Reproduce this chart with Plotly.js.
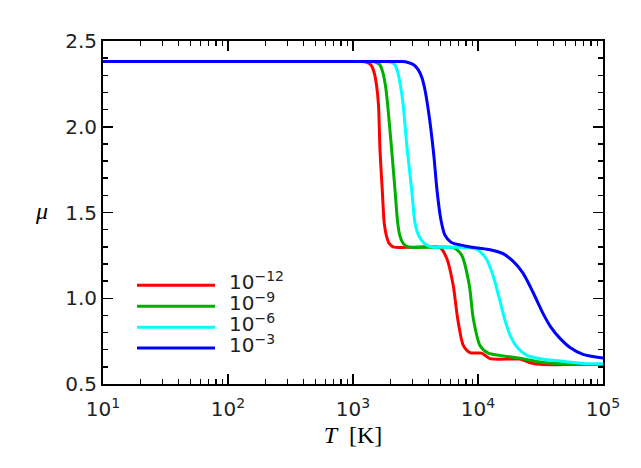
<!DOCTYPE html>
<html>
<head>
<meta charset="utf-8">
<script src="https://cdn.plot.ly/plotly-3.0.1.min.js"></script>
<style>
  html, body { margin: 0; padding: 0; background: #fff; }
  #chart { width: 641px; height: 468px; }
</style>
</head>
<body>
<div id="chart"></div>
<script>
// mean molecular weight vs temperature, one curve per density
const tempRed = [10, 100, 1000, 1180, 1294, 1393, 1472, 1542, 1600, 1644, 1715, 1778, 1854, 1941, 2089, 3000, 4966, 5619, 6334, 6880, 7627, 8630, 10700, 12480, 21680, 26060, 33110, 60000, 100000];
const muRed   = [2.38, 2.38, 2.38, 2.38, 2.375, 2.36, 2.319, 2.243, 2.126, 1.864, 1.63, 1.438, 1.362, 1.321, 1.30, 1.297, 1.295, 1.233, 1.076, 0.88, 0.725, 0.683, 0.68, 0.648, 0.645, 0.624, 0.613, 0.614, 0.614];

const tempGreen = [10, 100, 1000, 1393, 1528, 1644, 1738, 1820, 1888, 1959, 2040, 2168, 2280, 2377, 2512, 2754, 4000, 6340, 7410, 8520, 9170, 10370, 12090, 15000, 21680, 31330, 57540, 100000];
const muGreen   = [2.38, 2.38, 2.38, 2.38, 2.375, 2.36, 2.313, 2.237, 2.138, 2.01, 1.864, 1.63, 1.438, 1.362, 1.321, 1.30, 1.297, 1.295, 1.25, 1.076, 0.88, 0.725, 0.68, 0.667, 0.65, 0.628, 0.615, 0.613];

const tempCyan = [10, 100, 1000, 1837, 2014, 2168, 2291, 2399, 2512, 2606, 2718, 2950, 3133, 3373, 3698, 4207, 6000, 8630, 9770, 11590, 13180, 14720, 16440, 18370, 20890, 24660, 33110, 47860, 69180, 100000];
const muCyan   = [2.38, 2.38, 2.38, 2.38, 2.375, 2.36, 2.313, 2.237, 2.138, 2.01, 1.864, 1.63, 1.438, 1.362, 1.321, 1.30, 1.297, 1.295, 1.286, 1.233, 1.134, 1.006, 0.871, 0.772, 0.708, 0.667, 0.644, 0.632, 0.62, 0.618];

const tempBlue = [10, 100, 1000, 2000, 2455, 2754, 3076, 3342, 3565, 3767, 3981, 4207, 4446, 4699, 5058, 5445, 6081, 7870, 10000, 12470, 15850, 19050, 22910, 27540, 33110, 38370, 45290, 54450, 69180, 100000];
const muBlue   = [2.38, 2.38, 2.38, 2.38, 2.38, 2.375, 2.36, 2.33, 2.284, 2.214, 2.109, 1.98, 1.823, 1.63, 1.455, 1.367, 1.327, 1.305, 1.293, 1.283, 1.26, 1.216, 1.146, 1.035, 0.912, 0.83, 0.766, 0.713, 0.673, 0.651];

const seriesNames  = ['10<sup>−12</sup>', '10<sup>−9</sup>', '10<sup>−6</sup>', '10<sup>−3</sup>'];
const seriesColors = ['#ff0000', '#00b000', '#00ffff', '#0000ff'];

const xTickVals = [10, 100, 1000, 10000, 100000];
const xTickText = ['10<sup>1</sup>', '10<sup>2</sup>', '10<sup>3</sup>', '10<sup>4</sup>', '10<sup>5</sup>'];

const temps = [tempRed, tempGreen, tempCyan, tempBlue];
const mus = [muRed, muGreen, muCyan, muBlue];

const traces = temps.map((t, i) => ({
  type: 'scatter',
  mode: 'lines',
  x: t,
  y: mus[i],
  name: seriesNames[i],
  line: { color: seriesColors[i], width: 3, shape: 'spline', smoothing: 0.7 },
  hoverinfo: 'skip'
}));

// minor ticks at 2..9 of every decade
const xMinor = [];
for (let d = 10; d < 100000; d *= 10) {
  for (let k = 2; k <= 9; k++) xMinor.push(k * d);
}

// hand drawn legend, like the original
const legX0 = 0.068, legX1 = 0.224, legY = [0.2876, 0.2265, 0.1654, 0.105];
const shapes = seriesColors.map((c, i) => ({
  type: 'line', xref: 'paper', yref: 'paper',
  x0: legX0, x1: legX1, y0: legY[i], y1: legY[i],
  line: { color: c, width: 3 }
}));
const annotations = seriesNames.map((n, i) => ({
  xref: 'paper', yref: 'paper', x: 0.248, y: legY[i],
  xanchor: 'left', yanchor: 'middle', yshift: 4,
  text: n, showarrow: false,
  font: { family: 'DejaVu Sans', size: 20, color: '#222' }
}));
annotations.push({
  xref: 'paper', yref: 'paper', x: -0.124, y: 0.505,
  xanchor: 'center', yanchor: 'middle',
  text: '<i>μ</i>', showarrow: false,
  font: { family: 'Liberation Serif', size: 24, color: '#000' }
});

const axisCommon = {
  showline: true, linecolor: '#000', linewidth: 2, mirror: 'allticks',
  ticks: 'inside', ticklen: 10, tickwidth: 1.5, tickcolor: '#000',
  showgrid: false, zeroline: false,
  tickfont: { family: 'DejaVu Sans', size: 20, color: '#222' }
};

const layout = {
  width: 641, height: 468,
  margin: { l: 103, r: 38, t: 41, b: 84 },
  paper_bgcolor: '#fff', plot_bgcolor: '#fff',
  showlegend: false,
  xaxis: Object.assign({}, axisCommon, {
    type: 'log', range: [1, 5],
    tickmode: 'array', tickvals: xTickVals, ticktext: xTickText,
    ticklabelstandoff: 6,
    minor: { tickmode: 'array', tickvals: xMinor, ticks: 'inside', ticklen: 5, tickwidth: 1.5, tickcolor: '#000', showgrid: false },
    title: { text: '<i>T</i>  [K]', font: { family: 'Liberation Serif', size: 24, color: '#000' }, standoff: 6 }
  }),
  yaxis: Object.assign({}, axisCommon, {
    range: [0.5, 2.5], tick0: 0.5, dtick: 0.5, tickformat: '.1f',
    minor: { dtick: 0.1, ticks: 'inside', ticklen: 5, tickwidth: 1.5, tickcolor: '#000', showgrid: false }
  }),
  shapes: shapes,
  annotations: annotations
};

Plotly.newPlot('chart', traces, layout, { staticPlot: true, displayModeBar: false });
</script>
</body>
</html>
